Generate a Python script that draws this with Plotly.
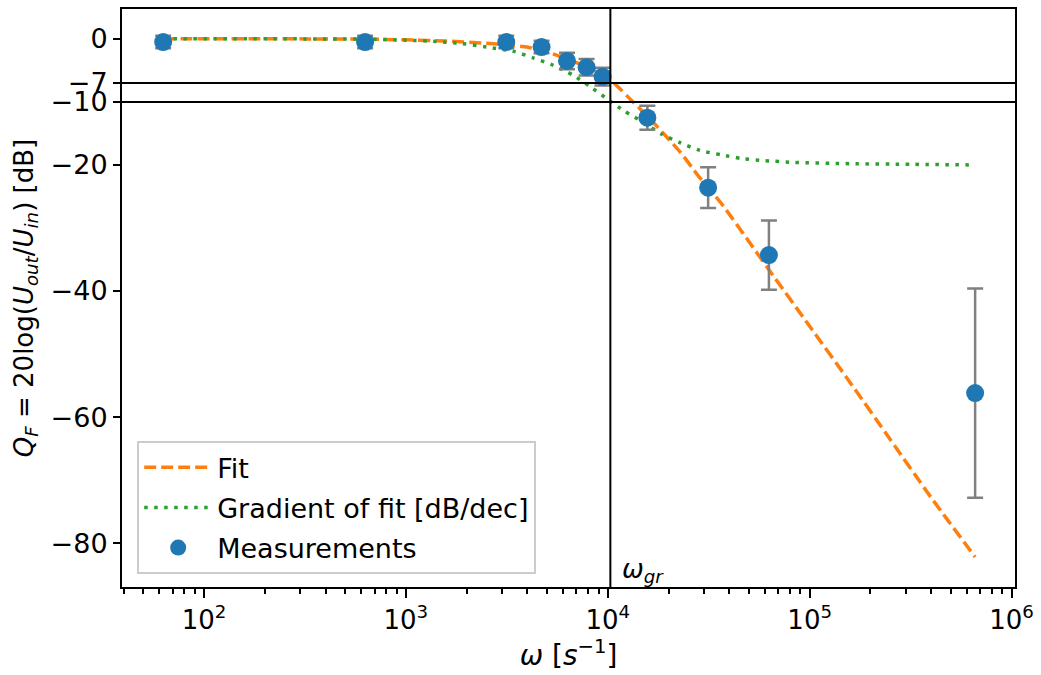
import numpy as np
import plotly.graph_objects as go

# ---- data ----
meas_omega = [62.8, 628, 3142, 4700, 6283, 7854, 9425, 15708, 31416, 62832, 660000]
meas_db = [-0.5, -0.5, -0.5, -1.3, -3.5, -4.5, -6.0, -12.5, -23.6, -34.3, -56.2]
meas_err = [1.0, 1.0, 1.0, 1.0, 1.3, 1.3, 1.4, 1.9, 3.25, 5.5, 16.6]

fit_omega = [62.8, 316, 631, 1000, 1585, 2512, 3162, 3981, 5012, 6310, 7943, 10000,
             11480, 12590, 15850, 18620, 22910, 28180, 36310, 50120, 63100, 100000,
             158500, 251200, 398100, 660000]
fit_db = [0, 0, -0.05, -0.15, -0.35, -0.7, -0.95, -1.3, -2.1, -3.2, -4.5, -6.1,
          -7.9, -9.2, -12.4, -14.8, -18.0, -21.8, -26.0, -32.2, -36.7, -45.6,
          -54.5, -63.6, -72.7, -82.2]

grad_omega = [62.8, 316, 631, 1000, 1413, 1905, 2512, 3388, 4266, 5370, 6683, 8204,
              10000, 12130, 14960, 18450, 22910, 28580, 36560, 46340, 58880, 84530,
              158500, 316200, 660000]
grad_db = [0, 0, -0.05, -0.2, -0.4, -0.75, -1.3, -1.95, -3.0, -4.2, -5.7, -7.6,
           -9.6, -11.5, -13.2, -15.1, -16.5, -17.7, -18.4, -19.0, -19.3, -19.6,
           -19.8, -19.9, -20.0]

hlines_db = [-7, -10]
omega_gr = 10300

ytick_vals = [0, -7, -10, -20, -40, -60, -80]
xtick_vals = [1e2, 1e3, 1e4, 1e5, 1e6]
xtick_text = ["10<sup>2</sup>", "10<sup>3</sup>", "10<sup>4</sup>", "10<sup>5</sup>", "10<sup>6</sup>"]

FONT = "DejaVu Sans"
FS = 26

minor_vals = [m * 10 ** e for e in range(1, 6) for m in range(2, 10)]
minor_vals = [v for v in minor_vals if 39.3 <= v <= 1.04e6]

fig = go.Figure()
fig.add_trace(go.Scatter(
    x=fit_omega, y=fit_db, mode="lines", name="Fit",
    line=dict(color="#ff7f0e", width=3.5, dash="12px,5px", shape="spline", smoothing=0.6),
    legendgroup="a"))
fig.add_trace(go.Scatter(
    x=grad_omega, y=grad_db, mode="lines", name="Gradient of fit [dB/dec]",
    line=dict(color="#2ca02c", width=3.5, dash="3.5px,6.5px", shape="spline", smoothing=0.6),
    legendgroup="b"))
fig.add_trace(go.Scatter(
    x=meas_omega, y=meas_db, mode="markers", name="Measurements",
    marker=dict(color="#1f77b4", size=18),
    error_y=dict(type="data", array=meas_err, color="#808080", thickness=2.5, width=8),
    legendgroup="c"))

for h in hlines_db:
    fig.add_shape(type="line", xref="paper", x0=0, x1=1, yref="y", y0=h, y1=h,
                  line=dict(color="black", width=2), layer="above")
fig.add_shape(type="line", xref="x", x0=omega_gr, x1=omega_gr,
              yref="paper", y0=0, y1=1, line=dict(color="black", width=2), layer="above")

fig.add_annotation(x=np.log10(omega_gr), y=-84.4, xref="x", yref="y",
                   text="<i>ω<sub>gr</sub></i>", showarrow=False,
                   xanchor="left", yanchor="middle", xshift=10,
                   font=dict(family=FONT, size=FS, color="black"))

fig.update_layout(
    width=1041, height=675,
    margin=dict(l=122, r=26, t=7, b=88),
    paper_bgcolor="white", plot_bgcolor="white",
    font=dict(family=FONT, size=FS, color="black"),
    showlegend=True,
    legend=dict(x=0.017, y=0.022, xanchor="left", yanchor="bottom",
                bgcolor="rgba(255,255,255,0.8)", bordercolor="#cccccc", borderwidth=2,
                font=dict(family=FONT, size=27), traceorder="grouped", tracegroupgap=2,
                itemwidth=68),
    xaxis=dict(
        type="log", range=[1.594, 6.017],
        tickmode="array", tickvals=xtick_vals, ticktext=xtick_text,
        ticks="outside", ticklen=9, tickwidth=2, tickcolor="black",
        minor=dict(tickmode="array", tickvals=minor_vals, ticks="outside",
                   ticklen=5, tickwidth=1.5, tickcolor="black", showgrid=False),
        showgrid=False, zeroline=False,
        showline=True, linecolor="black", linewidth=2, mirror=True,
        title=dict(text="<i>ω</i> [<i>s</i><sup>−1</sup>]", standoff=6,
                   font=dict(family=FONT, size=28)),
        tickfont=dict(family=FONT, size=FS),
    ),
    yaxis=dict(
        range=[-86.96, 4.74],
        tickmode="array", tickvals=ytick_vals,
        ticks="outside", ticklen=7, tickwidth=2, tickcolor="black",
        showgrid=False, zeroline=False,
        showline=True, linecolor="black", linewidth=2, mirror=True,
        title=dict(text="<i>Q<sub>F</sub></i> = 20log(<i>U<sub>out</sub></i>/<i>U<sub>in</sub></i>) [dB]",
                   standoff=10, font=dict(family=FONT, size=FS)),
        tickfont=dict(family=FONT, size=27),
    ),
)

fig.write_html("out.html", config={"displayModeBar": False},
               post_script="document.body.style.margin='0px';")
